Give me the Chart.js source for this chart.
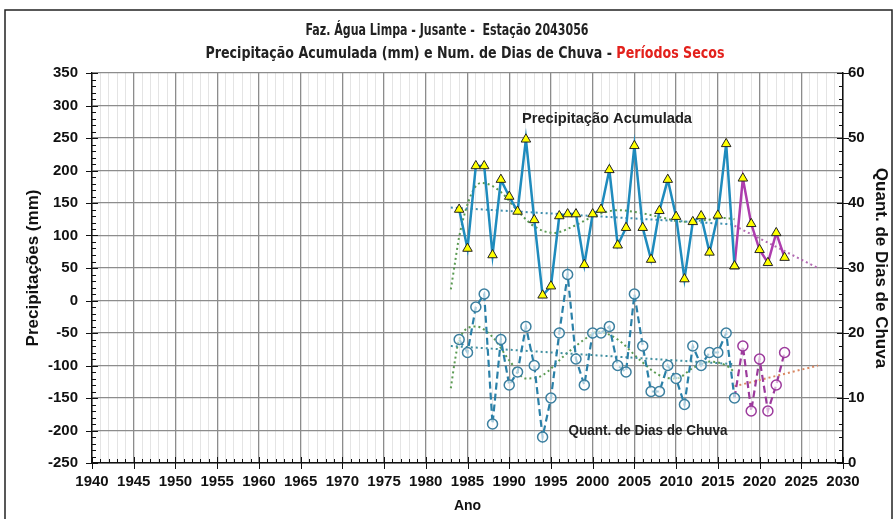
<!DOCTYPE html>
<html lang="pt">
<head>
<meta charset="utf-8">
<title>Faz. Água Limpa - Jusante - Estação 2043056</title>
<script src="https://cdn.jsdelivr.net/npm/chart.js@4.4.1/dist/chart.umd.min.js"></script>
<style>
  html, body { margin: 0; padding: 0; background: #fff; }
  #wrap { width: 894px; height: 519px; }
</style>
</head>
<body>
<div id="wrap"><canvas id="chuva" width="894" height="519"></canvas></div>
<script>
// anos da série observada
const years = [1984, 1985, 1986, 1987, 1988, 1989, 1990, 1991, 1992, 1993,
               1994, 1995, 1996, 1997, 1998, 1999, 2000, 2001, 2002, 2003,
               2004, 2005, 2006, 2007, 2008, 2009, 2010, 2011, 2012, 2013,
               2014, 2015, 2016, 2017, 2018, 2019, 2020, 2021, 2022, 2023];

// precipitação acumulada (mm) - eixo esquerdo
const precip = [140, 80, 207, 207, 70, 186, 160, 137, 248, 124,
                8, 22, 130, 133, 133, 55, 133, 140, 201, 85,
                112, 238, 112, 63, 138, 186, 129, 33, 121, 130,
                74, 131, 241, 53, 188, 118, 78, 58, 104, 66];

// número de dias de chuva - eixo direito
const rainDays = [19, 17, 24, 26, 6, 19, 12, 14, 21, 15,
                  4, 10, 20, 29, 16, 12, 20, 20, 21, 15,
                  14, 26, 18, 11, 11, 15, 13, 9, 18, 15,
                  17, 17, 20, 10, 18, 8, 16, 8, 12, 17];

// início do período seco
const dryStart = 2017;

// linhas de tendência [ano, valor]
const precipLinTrend = [[1983, 143], [2017, 117]];
const precipPolyTrend = [[1983, 17], [1983.5, 58], [1984, 98], [1985.5, 165], [1986.7, 181],
                         [1989, 167], [1991, 138], [1993, 114], [1995.3, 104], [1998, 116],
                         [2000, 129], [2003, 139], [2006, 134], [2008.5, 127], [2011, 121],
                         [2013, 123], [2016, 127], [2017, 125]];
const precipDryTrend = [[2017, 115], [2027, 50]];
const daysLinTrend = [[1983, 18], [2017, 15.2]];
const daysPolyTrend = [[1983, 11.5], [1983.5, 15.8], [1984, 19], [1986, 21], [1988, 19.4],
                       [1990, 15.8], [1992, 13], [1994, 13.5], [1996.5, 16.4], [1999, 19],
                       [2000.6, 20.2], [2003, 19], [2005.7, 15.8], [2008, 13.5], [2010, 13],
                       [2012, 14.6], [2014, 15.6], [2016, 15], [2017, 14]];
const daysDryTrend = [[2017, 11.8], [2027, 15]];

const iDry = years.indexOf(dryStart);
const pts = (xs, ys) => xs.map((x, i) => ({ x: x, y: ys[i] }));
const pairs = arr => arr.map(p => ({ x: p[0], y: p[1] }));

const sans = "'Liberation Sans', Arial, sans-serif";
const tickFont = { family: sans, size: 15, weight: 'bold' };
const axisTitleFont = { family: sans, size: 17, weight: 'bold' };
const majorGrid = '#8c8c8c';

function trend(data, color, axis) {
	return {
		data: pairs(data),
		yAxisID: axis,
		borderColor: color,
		borderWidth: 2,
		borderDash: [2, 3],
		pointRadius: 0,
		cubicInterpolationMode: 'monotone',
		fill: false
	};
}

// texto comprimido na largura da referência
function fitRuns(c, runs, cx, cy, width, font) {
	c.font = font;
	let w = 0;
	runs.forEach(r => { w += c.measureText(r[0]).width; });
	const k = width / w;
	c.save();
	c.translate(cx - width / 2, cy);
	c.scale(k, 1);
	c.textBaseline = 'middle';
	c.textAlign = 'left';
	let x = 0;
	runs.forEach(r => {
		c.fillStyle = r[1];
		c.fillText(r[0], x, 0);
		x += c.measureText(r[0]).width;
	});
	c.restore();
}

const decor = {
	id: 'decor',
	afterDraw(chart) {
		const c = chart.ctx;
		const { x, y, y1 } = chart.scales;
		c.save();
		c.strokeStyle = '#111';
		c.lineWidth = 1;
		c.beginPath();
		for (let v = -250; v <= 350; v += 10) {
			const py = Math.round(y.getPixelForValue(v)) + 0.5;
			const major = v % 50 === 0;
			c.moveTo(y.right - (major ? 6 : 0), py);
			c.lineTo(y.right + (major ? 6 : 4), py);
		}
		for (let d = 0; d <= 60; d += 2) {
			const py = Math.round(y1.getPixelForValue(d)) + 0.5;
			const major = d % 10 === 0;
			c.moveTo(y1.left - (major ? 6 : 4), py);
			c.lineTo(y1.left + (major ? 6 : 0), py);
		}
		for (let a = 1940; a <= 2030; a++) {
			const px = Math.round(x.getPixelForValue(a)) + 0.5;
			const major = a % 5 === 0;
			c.moveTo(px, x.top - (major ? 6 : 4));
			c.lineTo(px, x.top + (major ? 6 : 0));
		}
		c.stroke();

		// moldura
		c.lineWidth = 1.5;
		c.strokeStyle = '#222';
		c.strokeRect(5, 10, 887, 530);

		const tf = "bold 16px 'Liberation Sans Narrow', 'DejaVu Sans Condensed', Arial, sans-serif";
		fitRuns(c, [['Faz. Água Limpa - Jusante -  Estação 2043056', '#222']], 447, 31, 283, tf);
		fitRuns(c, [['Precipitação Acumulada (mm) e Num. de Dias de Chuva - ', '#222'],
		            ['Períodos Secos', '#e3211c']], 465, 54, 519, tf);

		const lf = "bold 15px " + sans;
		fitRuns(c, [['Precipitação Acumulada', '#222']], 607, 119, 170, lf);
		fitRuns(c, [['Quant. de Dias de Chuva', '#222']], 648, 431, 159, lf);
		c.restore();
	}
};

const ctx = document.getElementById('chuva');

new Chart(ctx, {
	type: 'line',
	data: {
		datasets: [{
			data: pts(years.slice(0, iDry + 1), precip.slice(0, iDry + 1)),
			yAxisID: 'y',
			borderColor: '#1f8bbd',
			borderWidth: 2.5,
			pointStyle: 'triangle',
			pointRadius: 5.5,
			pointBackgroundColor: '#ffff00',
			pointBorderColor: '#222',
			pointBorderWidth: 1
		}, {
			data: pts(years.slice(iDry), precip.slice(iDry)),
			yAxisID: 'y',
			borderColor: '#ad3cad',
			borderWidth: 2.5,
			pointStyle: 'triangle',
			pointRadius: 5.5,
			pointBackgroundColor: '#ffff00',
			pointBorderColor: '#222',
			pointBorderWidth: 1
		}, {
			data: pts(years.slice(0, iDry + 1), rainDays.slice(0, iDry + 1)),
			yAxisID: 'y1',
			borderColor: '#2a80a8',
			borderWidth: 2.2,
			borderDash: [7, 4],
			pointStyle: 'circle',
			pointRadius: 5,
			pointBackgroundColor: 'rgba(255,255,255,0.6)',
			pointBorderColor: '#3b7f9f',
			pointBorderWidth: 1.5
		}, {
			data: pts(years.slice(iDry), rainDays.slice(iDry)),
			yAxisID: 'y1',
			borderColor: '#9c3a9c',
			borderWidth: 2.2,
			borderDash: [7, 4],
			pointStyle: 'circle',
			pointRadius: c => c.dataIndex === 0 ? 0 : 5,
			pointBackgroundColor: 'rgba(255,255,255,0.6)',
			pointBorderColor: '#9c3a9c',
			pointBorderWidth: 1.5
		},
		trend(precipLinTrend, '#3f8fae', 'y'),
		trend(precipPolyTrend, '#5a9a52', 'y'),
		trend(precipDryTrend, '#b36ab3', 'y'),
		trend(daysLinTrend, '#3f8fa0', 'y1'),
		trend(daysPolyTrend, '#5a9a52', 'y1'),
		trend(daysDryTrend, '#d98660', 'y1')
		]
	},

	options: {
		responsive: false,
		animation: false,
		layout: {
			padding: { top: 73, left: 8, right: 0, bottom: 0 }
		},
		scales: {
			x: {
				type: 'linear',
				min: 1940,
				max: 2030,
				afterFit: s => { s.height = 56; },
				ticks: {
					stepSize: 1,
					autoSkip: false,
					maxRotation: 0,
					padding: 10,
					color: '#111',
					font: tickFont,
					callback: v => v % 5 === 0 ? String(v) : ''
				},
				grid: {
					drawTicks: false,
					color: c => c.tick && c.tick.value % 5 === 0 ? majorGrid : '#e4e4e4',
					lineWidth: c => c.tick && c.tick.value % 5 === 0 ? 1.3 : 1
				},
				border: { color: '#111', width: 1.5 },
				title: {
					display: true,
					text: 'Ano',
					color: '#111',
					font: { family: sans, size: 14, weight: 'bold' },
					padding: { top: 0, bottom: 4 }
				}
			},
			y: {
				position: 'left',
				min: -250,
				max: 350,
				afterFit: s => { s.width = 84; },
				ticks: {
					stepSize: 10,
					autoSkip: false,
					padding: 14,
					color: '#111',
					font: tickFont,
					callback: v => v % 50 === 0 ? String(v) : ''
				},
				grid: {
					drawTicks: false,
					color: c => c.tick && c.tick.value % 50 === 0 ? majorGrid : 'rgba(0,0,0,0)',
					lineWidth: 1.3
				},
				border: { color: '#111', width: 1.5 },
				title: {
					display: true,
					text: 'Precipitações (mm)',
					color: '#111',
					font: axisTitleFont,
					padding: { top: 15, bottom: 0 }
				}
			},
			y1: {
				position: 'right',
				min: 0,
				max: 60,
				afterFit: s => { s.width = 51; },
				ticks: {
					stepSize: 2,
					autoSkip: false,
					padding: 5,
					color: '#111',
					font: tickFont,
					callback: v => v % 10 === 0 ? String(v) : ''
				},
				grid: { drawOnChartArea: false, drawTicks: false },
				border: { color: '#111', width: 1.5 },
				title: {
					display: true,
					text: 'Quant. de Dias de Chuva',
					color: '#111',
					font: axisTitleFont,
					padding: { top: 3, bottom: 0 }
				}
			}
		},
		plugins: {
			legend: { display: false },
			tooltip: { enabled: false }
		}
	},
	plugins: [decor]
});
</script>
</body>
</html>
